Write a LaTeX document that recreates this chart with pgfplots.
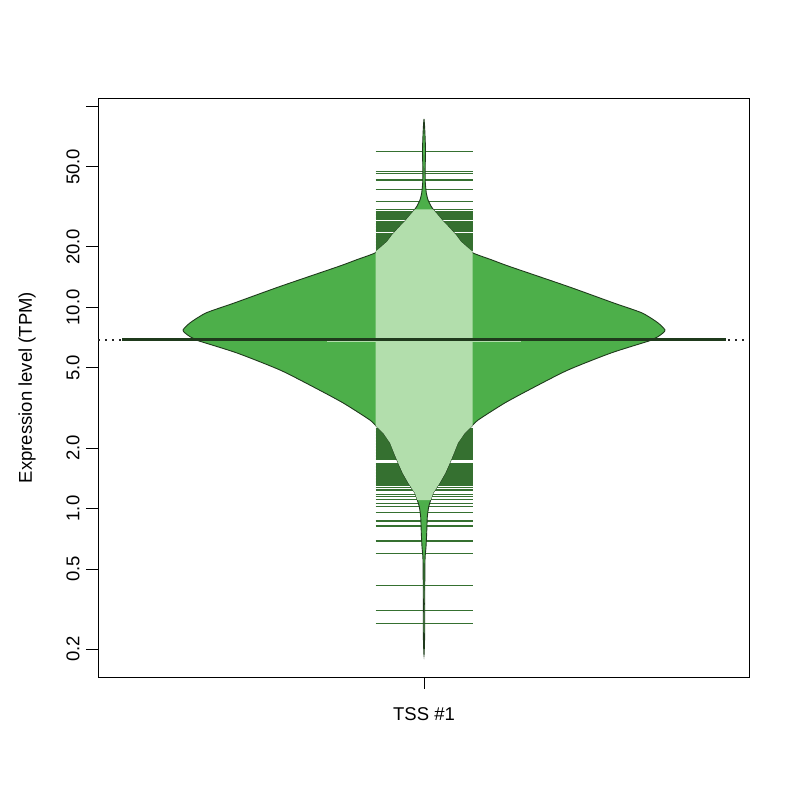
\documentclass[border=0pt]{standalone}
\usepackage{fontspec}
\setmainfont{Liberation Sans}
\usepackage{pgfplots}
\pgfplotsset{compat=1.18}
\usepackage{pgfplotstable}
\definecolor{beanfill}{HTML}{4DAF4A}
\definecolor{beanlight}{HTML}{B2DEAC}
\definecolor{beandark}{HTML}{357030}
\definecolor{beanborder}{HTML}{1F3A1C}

% bean density outline: value, signed half width (px); left side down, right side up
\pgfplotstableread{
v w
86.5 0
80.7 -0.5
72.0 -1.0
60.6 -1.5
50.1 -1.2
45.5 -1.2
41.6 -1.3
37.1 -2.3
34.2 -4
31.7 -7.3
29.9 -11
27.2 -18
24.7 -26
22.9 -32
21.2 -37
19.97 -43
18.64 -49
17.2 -68
16.0 -85
12.7 -144
10.5 -190
9.38 -218
8.37 -234
7.72 -241
7.46 -239
7.15 -234
6.99 -230
6.83 -226
5.93 -187
4.88 -144
4.03 -111
3.35 -81
2.75 -54
2.54 -47
2.37 -40.7
2.12 -34
1.89 -30
1.68 -25.7
1.50 -21.3
1.34 -15.7
1.19 -9
1.10 -6.7
1.02 -4.7
0.907 -3.3
0.755 -2.7
0.644 -2
0.554 -1
0.351 -0.7
0.240 -0.7
0.187 0
0.240 0.7
0.351 0.7
0.554 1
0.644 2
0.755 2.7
0.907 3.3
1.02 4.7
1.10 6.7
1.19 9
1.34 15.7
1.50 21.3
1.68 25.7
1.89 30
2.12 34
2.37 40.7
2.54 47
2.75 54
3.35 81
4.03 111
4.88 144
5.93 187
6.83 226
6.99 230
7.15 234
7.46 239
7.72 241
8.37 234
9.38 218
10.5 190
12.7 144
16.0 85
17.2 68
18.64 49
19.97 43
21.2 37
22.9 32
24.7 26
27.2 18
29.9 11
31.7 7.3
34.2 4
37.1 2.3
41.6 1.3
45.5 1.2
50.1 1.2
60.6 1.5
72.0 1.0
80.7 0.5
86.5 0
}\bean

% dense bean-line zone inside the bean
\pgfplotstableread{
v w
30.7 -9
29.9 -11
27.2 -18
24.7 -26
22.9 -32
21.2 -37
19.97 -43
18.9 -48.5
2.58 -48.5
2.54 -47
2.37 -40.7
2.12 -34
1.89 -30
1.68 -25.7
1.50 -21.3
1.34 -15.7
1.19 -9
1.10 -6.7
1.10 6.7
1.19 9
1.34 15.7
1.50 21.3
1.68 25.7
1.89 30
2.12 34
2.37 40.7
2.54 47
2.58 48.5
18.9 48.5
19.97 43
21.2 37
22.9 32
24.7 26
27.2 18
29.9 11
30.7 9
}\light

% individual observations (bean lines), one segment per value
\pgfplotstableread{
x v
375.5 59.5
472.5 59.5
nan nan
375.5 47.3
472.5 47.3
nan nan
375.5 46.4
472.5 46.4
nan nan
375.5 43.0
472.5 43.0
nan nan
375.5 38.7
472.5 38.7
nan nan
375.5 33.5
472.5 33.5
nan nan
375.5 30.7
472.5 30.7
nan nan
375.5 29.9
472.5 29.9
nan nan
375.5 29.47
472.5 29.47
nan nan
375.5 28.97
472.5 28.97
nan nan
375.5 28.47
472.5 28.47
nan nan
375.5 27.99
472.5 27.99
nan nan
375.5 27.51
472.5 27.51
nan nan
375.5 26.58
472.5 26.58
nan nan
375.5 26.13
472.5 26.13
nan nan
375.5 25.68
472.5 25.68
nan nan
375.5 25.25
472.5 25.25
nan nan
375.5 24.82
472.5 24.82
nan nan
375.5 24.39
472.5 24.39
nan nan
375.5 23.98
472.5 23.98
nan nan
375.5 23.17
472.5 23.17
nan nan
375.5 22.77
472.5 22.77
nan nan
375.5 22.38
472.5 22.38
nan nan
375.5 22.00
472.5 22.00
nan nan
375.5 21.63
472.5 21.63
nan nan
375.5 21.26
472.5 21.26
nan nan
375.5 20.90
472.5 20.90
nan nan
375.5 20.54
472.5 20.54
nan nan
375.5 20.19
472.5 20.19
nan nan
375.5 19.85
472.5 19.85
nan nan
375.5 19.51
472.5 19.51
nan nan
375.5 19.18
472.5 19.18
nan nan
375.5 2.500
472.5 2.500
nan nan
375.5 2.457
472.5 2.457
nan nan
375.5 2.415
472.5 2.415
nan nan
375.5 2.374
472.5 2.374
nan nan
375.5 2.334
472.5 2.334
nan nan
375.5 2.294
472.5 2.294
nan nan
375.5 2.255
472.5 2.255
nan nan
375.5 2.217
472.5 2.217
nan nan
375.5 2.179
472.5 2.179
nan nan
375.5 2.142
472.5 2.142
nan nan
375.5 2.105
472.5 2.105
nan nan
375.5 2.070
472.5 2.070
nan nan
375.5 2.034
472.5 2.034
nan nan
375.5 2.000
472.5 2.000
nan nan
375.5 1.966
472.5 1.966
nan nan
375.5 1.932
472.5 1.932
nan nan
375.5 1.899
472.5 1.899
nan nan
375.5 1.867
472.5 1.867
nan nan
375.5 1.835
472.5 1.835
nan nan
375.5 1.804
472.5 1.804
nan nan
375.5 1.773
472.5 1.773
nan nan
375.5 1.749
472.5 1.749
nan nan
375.5 1.668
472.5 1.668
nan nan
375.5 1.646
472.5 1.646
nan nan
375.5 1.618
472.5 1.618
nan nan
375.5 1.590
472.5 1.590
nan nan
375.5 1.563
472.5 1.563
nan nan
375.5 1.536
472.5 1.536
nan nan
375.5 1.510
472.5 1.510
nan nan
375.5 1.484
472.5 1.484
nan nan
375.5 1.459
472.5 1.459
nan nan
375.5 1.434
472.5 1.434
nan nan
375.5 1.410
472.5 1.410
nan nan
375.5 1.386
472.5 1.386
nan nan
375.5 1.362
472.5 1.362
nan nan
375.5 1.339
472.5 1.339
nan nan
375.5 1.309
472.5 1.309
nan nan
375.5 1.275
472.5 1.275
nan nan
375.5 1.236
472.5 1.236
nan nan
375.5 1.177
472.5 1.177
nan nan
375.5 1.145
472.5 1.145
nan nan
375.5 1.111
472.5 1.111
nan nan
375.5 1.061
472.5 1.061
nan nan
375.5 1.021
472.5 1.021
nan nan
375.5 0.953
472.5 0.953
nan nan
375.5 0.867
472.5 0.867
nan nan
375.5 0.818
472.5 0.818
nan nan
375.5 0.689
472.5 0.689
nan nan
375.5 0.596
472.5 0.596
nan nan
375.5 0.413
472.5 0.413
nan nan
375.5 0.312
472.5 0.312
nan nan
375.5 0.267
472.5 0.267
}\obs

\begin{document}
\fontsize{18.5bp}{22bp}\selectfont
\begin{tikzpicture}
\path[use as bounding box] (0bp,0bp) rectangle (800bp,800bp);
\begin{axis}[
  at={(98bp,123bp)}, anchor=south west,
  scale only axis, width=651bp, height=579bp,
  xmin=98, xmax=749, ymin=0.1452, ymax=109.9,
  ymode=log,
  xtick={424}, xticklabels={TSS \#1},
  ytick={0.2,0.5,1,2,5,10,20,50,100},
  yticklabels={0.2,0.5,1.0,2.0,5.0,10.0,20.0,50.0,{}},
  yminorticks=false,
  tick align=outside, major tick length=12bp,
  xtick pos=bottom, ytick pos=left,
  tick style={black, line width=0.8bp},
  axis line style={line width=0.8bp},
  yticklabel style={rotate=90, anchor=south, font=\fontsize{18.5bp}{22bp}\selectfont},
  xticklabel style={anchor=north, yshift=-12bp, font=\fontsize{18.5bp}{22bp}\selectfont},
  every axis y label/.style={at={(axis description cs:-0.109,0.5)}, rotate=90, anchor=center},
  ylabel={Expression level (TPM)},
  unbounded coords=jump,
]
\addplot[line width=1.2bp, black!85, dash pattern=on 1.5bp off 5.5bp] coordinates {(98,6.885) (749,6.885)};
\addplot[draw=beandark, line width=1.3bp] table[x=x, y=v] {\obs};
\addplot[fill=beanfill, draw=beanborder, line width=0.9bp, smooth, tension=0.4] table[x expr=424+\thisrow{w}, y=v]{\bean};
\addplot[fill=beanlight, draw=none] table[x expr=424+\thisrow{w}, y=v]{\light};
\addplot[beanlight, line width=1bp] coordinates {(327,6.768) (521,6.768)};
\addplot[color=beanborder, line width=3bp] coordinates {(122,6.885) (726,6.885)};
\end{axis}
\end{tikzpicture}
\end{document}
